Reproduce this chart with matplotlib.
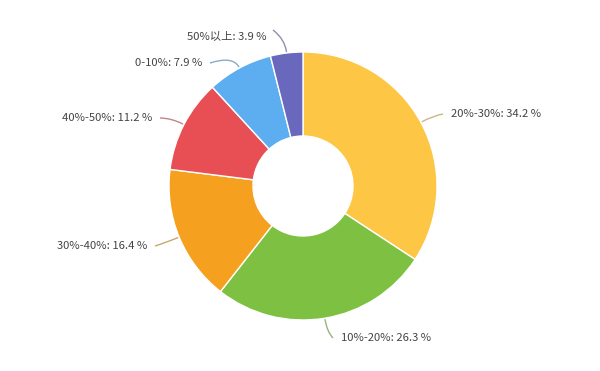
import matplotlib.pyplot as plt
import numpy as np
from matplotlib.path import Path
from matplotlib.patches import PathPatch

plt.rcParams['font.family'] = ['Noto Sans CJK SC', 'DejaVu Sans']

categories = ["20%-30%", "10%-20%", "30%-40%", "40%-50%", "0-10%", "50%以上"]
shares = [34.2, 26.3, 16.4, 11.2, 7.9, 3.9]
colors = ["#fdc645", "#7dc042", "#f5a11f", "#e84f54", "#5caef0", "#6a68bd"]

# label layout in pixel coords (x, y from top), alignment side
label_pos = [(451, 114, "left"), (341, 338, "left"), (147, 246, "right"),
             (152, 118, "right"), (202, 63, "right"), (267, 36, "right")]

W, H = 600, 371
cx, cy, R, r_in = 303, H - 186, 134, 50

fig = plt.figure(figsize=(W / 100, H / 100), dpi=100)
ax = fig.add_axes([0, 0, 1, 1])
ax.set_axis_off()

wedges, _ = ax.pie(shares, colors=colors, startangle=90, counterclock=False,
                   radius=R, center=(cx, cy),
                   wedgeprops=dict(width=R - r_in, edgecolor="white", linewidth=1))
ax.set_xlim(0, W)
ax.set_ylim(0, H)

total = sum(shares)
cum = 0
for name, v, col, (tx, ty, ha) in zip(categories, shares, colors, label_pos):
    mid = np.deg2rad(90 - 360 * (cum + v / 2) / total)
    cum += v
    p0 = (cx + (R + 1) * np.cos(mid), cy + (R + 1) * np.sin(mid))
    p1 = (cx + (R + 14) * np.cos(mid), cy + (R + 14) * np.sin(mid))
    ey = H - ty
    ex = tx - 8 if ha == "left" else tx + 8
    if name == "50%以上":
        ex, ey = tx + 6, H - 30
    path = Path([p0, p1, (ex, ey)], [Path.MOVETO, Path.CURVE3, Path.CURVE3])
    # connector colour: slice colour blended toward grey
    lc = tuple(0.5 * np.array(plt.matplotlib.colors.to_rgb(col)) + 0.5 * np.array([0.55, 0.55, 0.55]))
    ax.add_patch(PathPatch(path, fill=False, edgecolor=lc, alpha=0.85, lw=1))
    ax.text(tx, H - ty, "%s: %.1f %%" % (name, v), ha=ha, va="center",
            fontsize=8.1, color="#444444")

fig.savefig("out.png", dpi=100, facecolor="white")
